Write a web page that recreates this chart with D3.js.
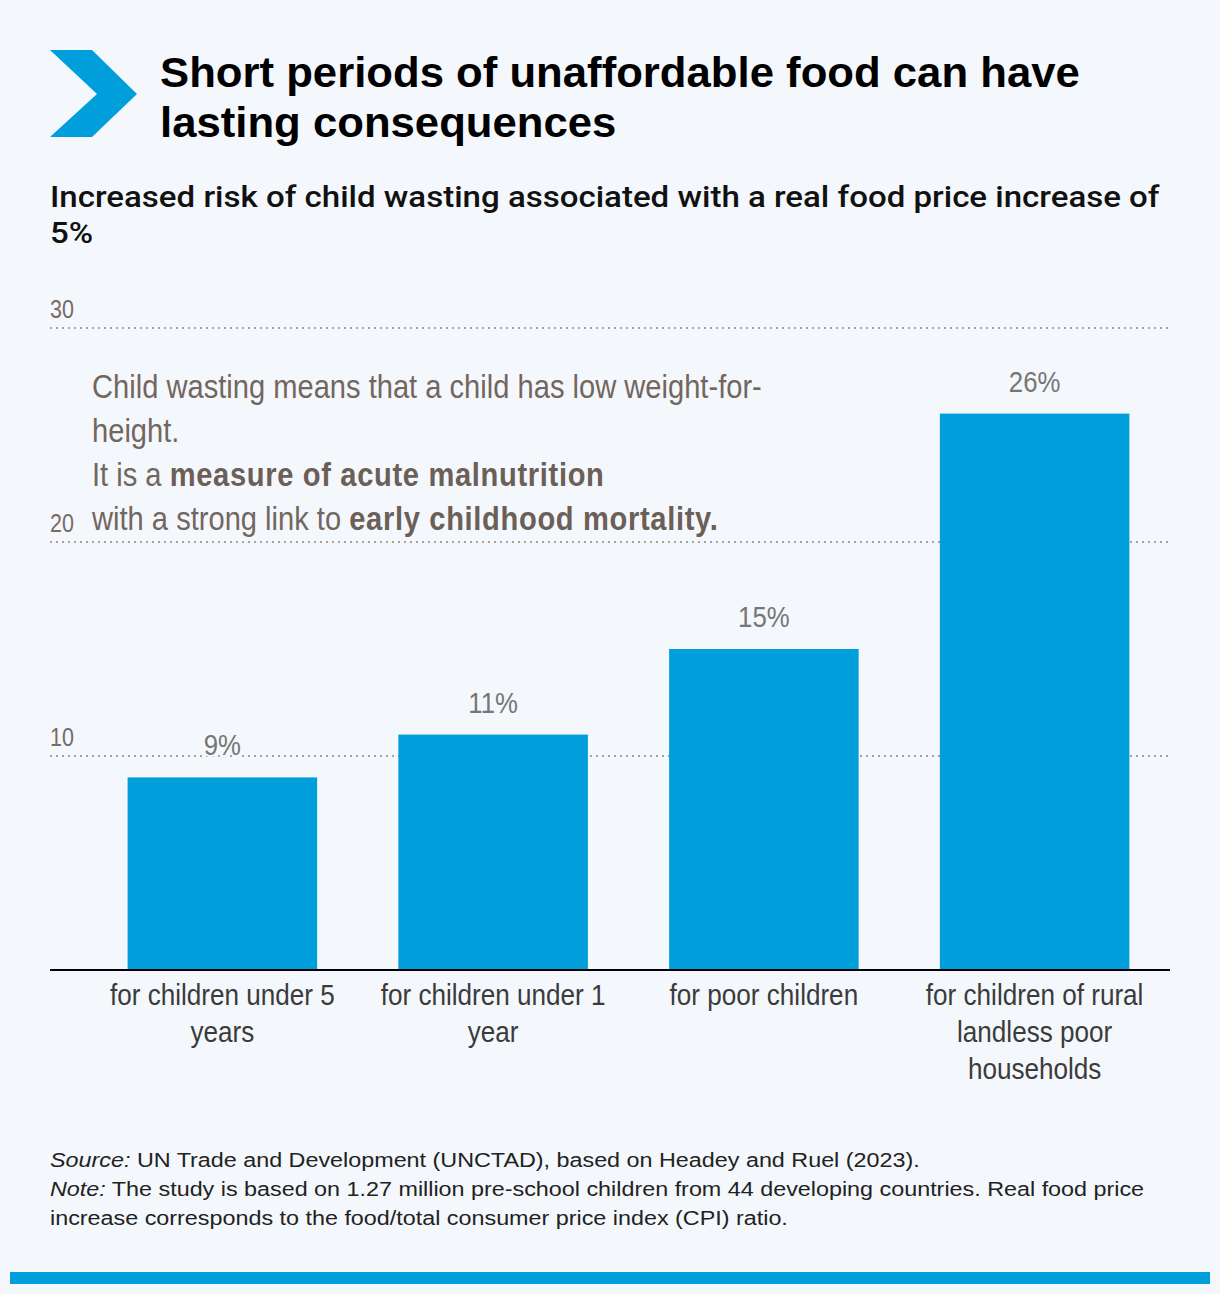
<!DOCTYPE html>
<html>
<head>
<meta charset="utf-8">
<script src="https://cdn.jsdelivr.net/npm/d3@7"></script>
<style>
  html, body { margin: 0; padding: 0; background: #f4f8fc; }
  svg { display: block; }
  .title { font-family: "Liberation Sans", Arial, sans-serif; font-weight: 700; font-size: 42px; fill: #000; }
  .subtitle { font-family: Roboto, "Liberation Sans", sans-serif; font-weight: 500; font-size: 29px; fill: #111; }
  .tick-label { font-family: "Liberation Sans", sans-serif; font-size: 25px; fill: #776b64; }
  .value-label { font-family: "Liberation Sans", sans-serif; font-size: 30px; fill: #767676; }
  .cat-label { font-family: "Liberation Sans", sans-serif; font-size: 30px; fill: #3b3b3b; }
  .note { font-family: "Liberation Sans", sans-serif; font-size: 33px; fill: #72665f; }
  .footer { font-family: "Liberation Sans", Arial, sans-serif; font-size: 21px; fill: #222; }
</style>
</head>
<body>
<svg id="chart" width="1220" height="1294"></svg>
<script>
  // ---------------------------------------------------------------------------
  // Data
  // ---------------------------------------------------------------------------

  const categories = [
    "for children under 5 years",
    "for children under 1 year",
    "for poor children",
    "for children of rural landless poor households",
  ];
  // label line breaks as they appear in the source
  const categoryLines = [
    ["for children under 5", "years"],
    ["for children under 1", "year"],
    ["for poor children"],
    ["for children of rural", "landless poor", "households"],
  ];
  const riskValues = [9, 11, 15, 26];
  const yTicks = [10, 20, 30];

  const titleLines = [
    "Short periods of unaffordable food can have",
    "lasting consequences",
  ];
  const subtitleLines = [
    "Increased risk of child wasting associated with a real food price increase of",
    "5%",
  ];
  // each line is a list of [text, bold]
  const noteLines = [
    [["Child wasting means that a child has low weight-for-", false]],
    [["height.", false]],
    [["It is a ", false], ["measure of acute malnutrition", true]],
    [["with a strong link to ", false], ["early childhood mortality.", true]],
  ];
  const footerLines = [
    [["Source:", true], [" UN Trade and Development (UNCTAD), based on Headey and Ruel (2023).", false]],
    [["Note:", true], [" The study is based on 1.27 million pre-school children from 44 developing countries. Real food price", false]],
    [["increase corresponds to the food/total consumer price index (CPI) ratio.", false]],
  ];

  const BLUE = "#009edb";
  const BG = "#f4f8fc";

  // ---------------------------------------------------------------------------
  // Helpers
  // ---------------------------------------------------------------------------

  // Horizontal stretch so a block's widest reference line spans `target` px
  // (the source face is a condensed / wide Helvetica we do not have).
  function fitBlock(g, x, y, lineIndex, target) {
    const node = g.selectAll("text").nodes()[lineIndex];
    const s = target / node.getComputedTextLength();
    g.attr("transform", `translate(${x},${y}) scale(${s},1)`);
    return s;
  }

  function multiline(parent, cls, lines, lineHeight, styleFn) {
    const g = parent.append("g");
    const t = g.selectAll("text")
      .data(lines)
      .join("text")
      .attr("class", cls)
      .attr("x", 0)
      .attr("y", (d, i) => i * lineHeight);
    t.selectAll("tspan")
      .data((d) => (Array.isArray(d) ? d : [[d, false]]))
      .join("tspan")
      .each(function (d) { styleFn && styleFn(d3.select(this), d); })
      .text((d) => d[0]);
    return g;
  }

  // ---------------------------------------------------------------------------
  // Setup
  // ---------------------------------------------------------------------------

  const svg = d3.select("#chart");
  svg.append("rect").attr("width", 1220).attr("height", 1294).attr("fill", BG);

  // Chevron logo
  svg.append("path")
    .attr("d", "M50,50 L92,50 L137,94 L92,137 L50,137 L97,94 Z")
    .attr("fill", BLUE);

  const titleG = multiline(svg, "title", titleLines, 50);
  fitBlock(titleG, 160, 87, 0, 920);

  const subG = multiline(svg, "subtitle", subtitleLines, 36);
  fitBlock(subG, 50, 207, 0, 1110);

  // ---------------------------------------------------------------------------
  // Scales
  // ---------------------------------------------------------------------------

  const x = d3.scaleBand()
    .domain(categories)
    .range([87, 1170])
    .paddingInner(0.3)
    .paddingOuter(0.15);

  const y = d3.scaleLinear()
    .domain([0, 30])
    .range([970, 328]);

  // Gridlines
  const grid = svg.append("g");
  grid.selectAll("line")
    .data(yTicks)
    .join("line")
    .attr("x1", 50)
    .attr("x2", 1168)
    .attr("y1", (d) => y(d))
    .attr("y2", (d) => y(d))
    .attr("stroke", "#a9a29d")
    .attr("stroke-width", 2)
    .attr("stroke-dasharray", "2 4");

  grid.selectAll("text")
    .data(yTicks)
    .join("text")
    .attr("class", "tick-label")
    .attr("transform", (d) => `translate(50,${y(d) - 10}) scale(0.86,1)`)
    .text((d) => d);

  // Bars
  svg.append("g").selectAll("rect")
    .data(riskValues)
    .join("rect")
    .attr("x", (d, i) => x(categories[i]))
    .attr("y", (d) => y(d))
    .attr("width", x.bandwidth())
    .attr("height", (d) => y(0) - y(d))
    .attr("fill", BLUE);

  // Value labels (with halo so the gridline breaks around them)
  svg.append("g").selectAll("text")
    .data(riskValues)
    .join("text")
    .attr("class", "value-label")
    .attr("transform", (d, i) =>
      `translate(${x(categories[i]) + x.bandwidth() / 2},${y(d) - 22}) scale(0.86,1)`)
    .attr("text-anchor", "middle")
    .attr("stroke", BG)
    .attr("stroke-width", 4)
    .attr("paint-order", "stroke")
    .text((d) => d + "%");

  // Baseline
  svg.append("line")
    .attr("x1", 50)
    .attr("x2", 1170)
    .attr("y1", y(0))
    .attr("y2", y(0))
    .attr("stroke", "#000")
    .attr("stroke-width", 2);

  // Category labels
  const catG = svg.append("g").selectAll("text")
    .data(categoryLines)
    .join("text")
    .attr("class", "cat-label")
    .attr("text-anchor", "middle")
    .attr("transform", (d, i) =>
      `translate(${x(categories[i]) + x.bandwidth() / 2},0) scale(0.87,1)`);
  catG.selectAll("tspan")
    .data((d) => d)
    .join("tspan")
    .attr("x", 0)
    .attr("y", (d, i) => 1005 + i * 37)
    .text((d) => d);

  // ---------------------------------------------------------------------------
  // Annotation
  // ---------------------------------------------------------------------------

  const noteG = multiline(svg, "note", noteLines, 44, (sel, d) => {
    if (d[1]) sel.attr("font-weight", 700).attr("fill", "#6b5f58").attr("letter-spacing", 0.75);
  });
  fitBlock(noteG, 92, 398, 0, 670);

  // ---------------------------------------------------------------------------
  // Footer
  // ---------------------------------------------------------------------------

  const footG = multiline(svg, "footer", footerLines, 29, (sel, d) => {
    if (d[1]) sel.attr("font-style", "italic");
  });
  fitBlock(footG, 50, 1167, 1, 1095);

  svg.append("rect")
    .attr("x", 10)
    .attr("y", 1272)
    .attr("width", 1200)
    .attr("height", 12)
    .attr("fill", BLUE);
</script>
</body>
</html>
